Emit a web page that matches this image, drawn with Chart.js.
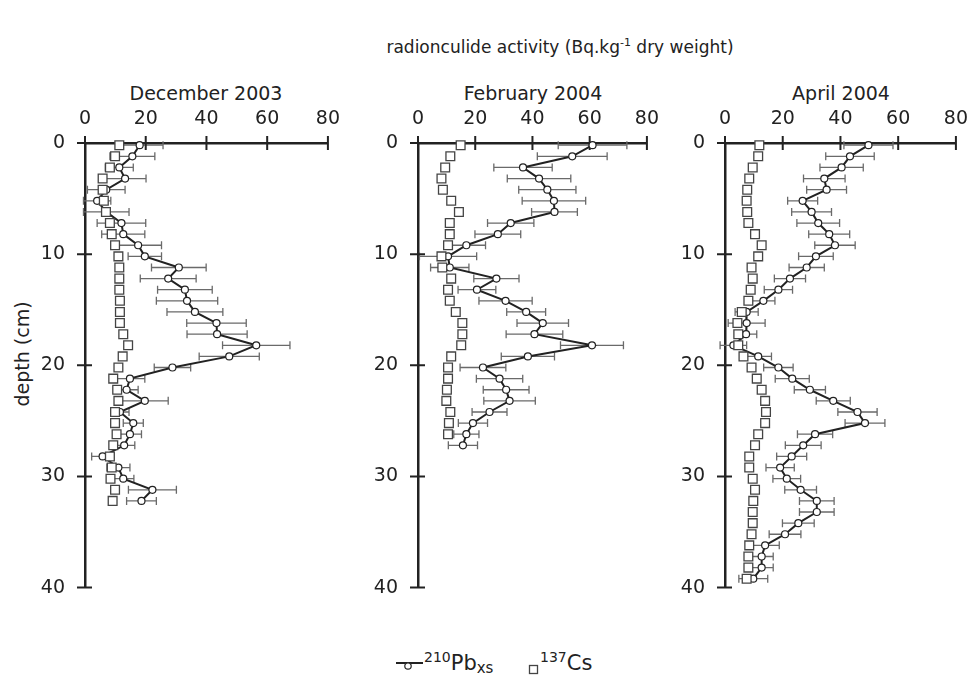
<!DOCTYPE html>
<html>
<head>
<meta charset="utf-8">
<script src="https://cdn.jsdelivr.net/npm/chart.js@4.4.0/dist/chart.umd.min.js"></script>
<style>
body{margin:0;background:#fff;font-family:"DejaVu Sans",sans-serif;color:#222;}
#wrap{position:relative;width:979px;height:675px;overflow:hidden;background:#fff;}
canvas{position:absolute;top:100px;}
.txt{position:absolute;white-space:nowrap;line-height:1;}
.ptitle{top:84px;font-size:19px;transform:translateX(-50%);}
sup{font-size:11px;vertical-align:7px;}
</style>
</head>
<body>
<div id="wrap">
  <div class="txt" style="left:560px;top:37px;font-size:17px;transform:translateX(-50%);">radionculide activity (Bq.kg<sup>-1</sup> dry weight)</div>
  <div class="txt ptitle" style="left:206px;">December 2003</div>
  <div class="txt ptitle" style="left:533px;">February 2004</div>
  <div class="txt ptitle" style="left:841px;">April 2004</div>
  <div class="txt" style="left:22px;top:354px;font-size:19px;transform:translate(-50%,-50%) rotate(-90deg);">depth (cm)</div>

  <canvas id="c1" width="305" height="511" style="left:40px;"></canvas>
  <canvas id="c2" width="291" height="511" style="left:373px;"></canvas>
  <canvas id="c3" width="293" height="511" style="left:680px;"></canvas>

  <!-- legende -->
  <svg style="position:absolute;left:396px;top:655px;" width="28" height="18">
    <line x1="0" y1="8" x2="27" y2="8" stroke="#222" stroke-width="2"/>
    <circle cx="12" cy="11" r="3.2" fill="#fff" stroke="#222" stroke-width="1.2"/>
  </svg>
  <div class="txt" style="left:424px;top:653px;font-size:21px;"><span style="font-size:14px;position:relative;top:-8px;">210</span>Pb<span style="font-size:15px;position:relative;top:3px;">xs</span></div>
  <svg style="position:absolute;left:528px;top:664px;" width="12" height="12">
    <rect x="1.5" y="1.5" width="8" height="8" fill="#fff" stroke="#444" stroke-width="1.3"/>
  </svg>
  <div class="txt" style="left:540px;top:653px;font-size:21px;"><span style="font-size:14px;position:relative;top:-8px;">137</span>Cs</div>
</div>

<script>
// December 2003
const decDepth = [0.2,1.2,2.2,3.2,4.2,5.2,6.2,7.2,8.2,9.2,10.2,11.2,12.2,13.2,14.2,15.2,16.2,17.2,18.2,19.2,20.2,21.2,22.2,23.2,24.2,25.2,26.2,27.2,28.2,29.2,30.2,31.2,32.2];
const decPb = [18,15.6,11.3,13.2,7,4,7,12,12.6,17.5,19.7,30.9,27.4,32.9,33.6,36.2,43.3,43.5,56.4,47.5,28.8,14.8,13.7,19.7,11.5,15.9,14.8,12.9,5.8,11,12.6,22.2,18.6];
const decPbErr = [7.7,7.4,4.6,6.9,6.2,4.5,7.5,8,7.1,7.7,5.5,9,9.2,9,10.1,9.2,9.8,9.9,11.1,9.9,6,4.9,3.8,7.7,3,3.3,3.8,3.5,3.6,3.8,3.5,7.9,4.9];
const decCsDepth = decDepth;
const decCs = [11.3,9.9,8.2,5.8,5.8,6.2,6.9,8.2,8.8,9.9,11,11.3,11.3,11.3,11.5,11.5,11.5,12.6,14.2,12.4,11,9.3,10.6,11,9.9,9.9,10.4,9.3,8.2,8.8,8.4,9.9,9.1];

// February 2004
const febDepth = [0.2,1.2,2.2,3.2,4.2,5.2,6.2,7.2,8.2,9.2,10.2,11.2,12.2,13.2,14.2,15.2,16.2,17.2,18.2,19.2,20.2,21.2,22.2,23.2,24.2,25.2,26.2,27.2];
const febPb = [61,53.9,36.7,42.3,45.2,47.5,47.7,32.4,27.9,16.9,10.5,11.1,27.4,20.6,30.6,37.8,43.6,40.7,60.8,38.4,22.7,28.5,30.8,32,25,19.2,16.9,15.7];
const febPbErr = [12,12.2,10.2,11.1,10,11.1,8,8.1,8,6.7,10,6.7,7.9,6.6,9.3,6.8,9,9.9,11,9.3,8,8.1,8,9,6.1,5.1,4.4,5.1];
const febCsDepth = [0.2,1.2,2.2,3.2,4.2,5.2,6.2,7.2,8.2,9.2,10.2,11.2,12.2,13.2,14.2,15.2,16.2,17.2,18.2,19.2,20.2,21.2,22.2,23.2,24.2,25.2,26.2];
const febCs = [14.9,11.3,9.5,8.2,8.7,11.6,14.3,11.1,11.1,10.5,8.2,8.5,11.6,10.5,11.1,13.2,15.5,15.5,15.1,11.6,10.5,10.5,10.1,9.9,11.3,10.8,10.5];

// April 2004
const aprDepth = [0.2,1.2,2.2,3.2,4.2,5.2,6.2,7.2,8.2,9.2,10.2,11.2,12.2,13.2,14.2,15.2,16.2,17.2,18.2,19.2,20.2,21.2,22.2,23.2,24.2,25.2,26.2,27.2,28.2,29.2,30.2,31.2,32.2,33.2,34.2,35.2,36.2,37.2,38.2,39.2];
const aprPb = [49.7,43.3,40.4,34.4,35.2,26.9,30,32.3,36.1,38.1,31.5,28.3,22.5,18.5,13.3,7.5,7.5,7.3,2.9,11.5,18.5,23.3,29.4,37.5,45.9,48.5,31.2,27.1,23.1,19.1,21.4,26.2,31.8,31.8,25.4,20.8,13.9,12.7,12.7,9.8];
const aprPbErr = [8.5,8.4,7.5,7.2,6.9,5.2,6.9,7.4,7.1,7,6,6.1,5.4,4.9,4,4,6.4,3.7,4.6,4.6,5.1,5.9,5.4,5.9,6.8,6.9,6.1,6.2,5.2,4.9,4.8,5.5,6,6,5.5,5.5,4.9,4,4,5];
const aprCsDepth = aprDepth;
const aprCs = [11.9,11.5,9.6,8.4,7.7,7.5,7.7,8.1,10.4,12.7,11.5,9.2,9.6,8.9,8.1,5.8,4.3,4.6,4.6,6.4,9.2,11,12.7,13.9,14.2,13.9,11.5,10.4,8.4,8.4,9.6,10.4,9.8,9.6,9.6,9.2,8.4,8.1,8.1,7.5];

const xTicks = [0, 20, 40, 60, 80];
const yTicks = [0, 10, 20, 30, 40];

const tickFont = { family: "DejaVu Sans", size: 19 };

function makePanel(id, depth, pb, pbErr, csDepth, cs) {

  // barres d'erreur horizontales, sous les points
  const errorBars = {
    id: 'errorBars',
    beforeDatasetsDraw(chart) {
      const xs = chart.scales.x, ys = chart.scales.y, ctx = chart.ctx;
      ctx.save();
      ctx.strokeStyle = '#6a6a6a';
      ctx.lineWidth = 1.3;
      ctx.beginPath();
      for (let i = 0; i < depth.length; i++) {
        const y = ys.getPixelForValue(depth[i]);
        const x1 = xs.getPixelForValue(pb[i] - pbErr[i]);
        const x2 = xs.getPixelForValue(pb[i] + pbErr[i]);
        ctx.moveTo(x1, y); ctx.lineTo(x2, y);
        ctx.moveTo(x1, y - 4); ctx.lineTo(x1, y + 4);
        ctx.moveTo(x2, y - 4); ctx.lineTo(x2, y + 4);
      }
      ctx.stroke();

      // graduations qui traversent les axes
      const a = chart.chartArea;
      ctx.strokeStyle = '#222';
      ctx.lineWidth = 2;
      ctx.beginPath();
      xTicks.forEach(v => {
        const x = xs.getPixelForValue(v);
        ctx.moveTo(x, a.top - 7); ctx.lineTo(x, a.top + 7);
      });
      yTicks.forEach(v => {
        const y = ys.getPixelForValue(v);
        ctx.moveTo(a.left - 8, y); ctx.lineTo(a.left + 7, y);
      });
      ctx.stroke();
      ctx.restore();
    }
  };

  new Chart(document.getElementById(id), {
    type: 'scatter',
    data: {
      datasets: [
        {
          label: '137Cs',
          data: csDepth.map((d, i) => ({ x: cs[i], y: d })),
          pointStyle: 'rect',
          pointRadius: 6.2,
          pointBorderWidth: 1.3,
          pointBorderColor: '#444',
          pointBackgroundColor: '#fff',
          showLine: false,
          clip: false,
          order: 0
        },
        {
          label: '210Pbxs',
          data: depth.map((d, i) => ({ x: pb[i], y: d })),
          showLine: true,
          borderColor: '#222',
          borderWidth: 2,
          pointStyle: 'circle',
          pointRadius: 3.5,
          pointBorderWidth: 1.2,
          pointBorderColor: '#222',
          pointBackgroundColor: '#fff',
          clip: false,
          order: 1
        }
      ]
    },
    options: {
      responsive: false,
      animation: false,
      layout: { padding: 0 },
      plugins: { legend: { display: false }, tooltip: { enabled: false } },
      scales: {
        x: {
          type: 'linear', position: 'top', min: 0, max: 80,
          afterBuildTicks: s => { s.ticks = xTicks.map(v => ({ value: v })); },
          afterFit: s => { s.height = 43; },
          ticks: { font: tickFont, color: '#222', padding: 5 },
          grid: { display: false },
          border: { color: '#222', width: 2.5 }
        },
        y: {
          type: 'linear', reverse: true, min: 0, max: 40,
          afterBuildTicks: s => { s.ticks = yTicks.map(v => ({ value: v })); },
          afterFit: s => { s.width = 45; },
          ticks: { font: tickFont, color: '#222', padding: 12 },
          grid: { display: false },
          border: { color: '#222', width: 2.5 }
        }
      }
    },
    plugins: [errorBars]
  });
}

makePanel('c1', decDepth, decPb, decPbErr, decCsDepth, decCs);
makePanel('c2', febDepth, febPb, febPbErr, febCsDepth, febCs);
makePanel('c3', aprDepth, aprPb, aprPbErr, aprCsDepth, aprCs);
</script>
</body>
</html>
